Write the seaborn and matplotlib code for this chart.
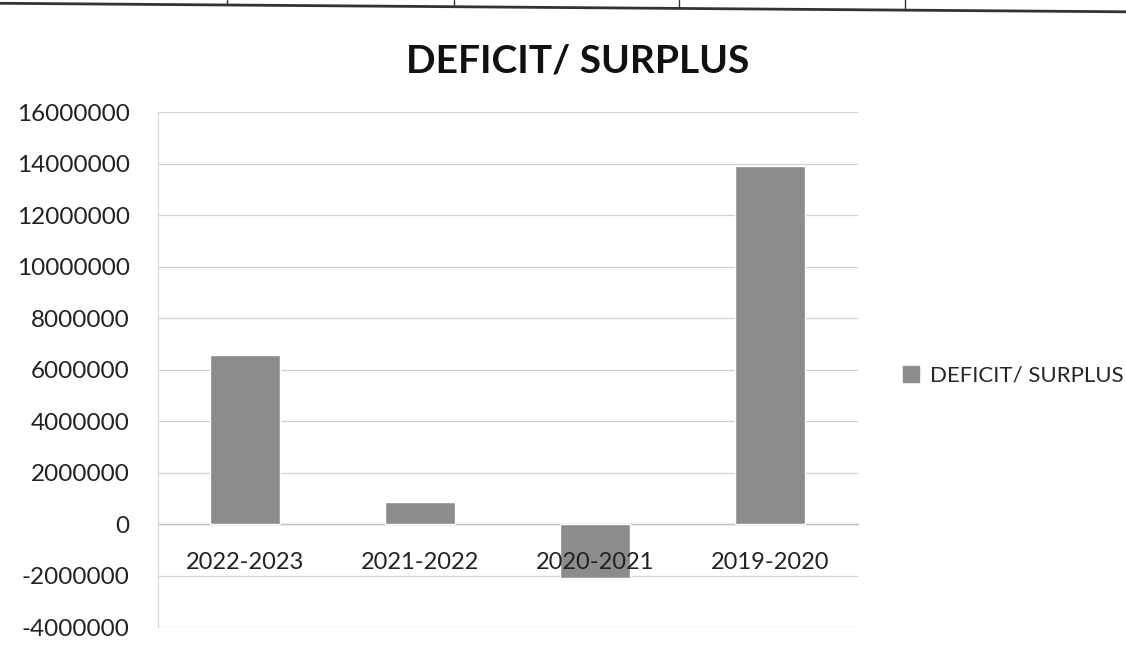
import matplotlib
matplotlib.use("Agg")
import matplotlib.pyplot as plt
from matplotlib.lines import Line2D
from matplotlib.patches import Patch
import seaborn as sns
import pandas as pd
import numpy as np

categories = ["2022-2023", "2021-2022", "2020-2021", "2019-2020"]
values = [6550000, 850000, -2100000, 13900000]
series_name = "DEFICIT/ SURPLUS"
yticks = [-4000000, -2000000, 0, 2000000, 4000000, 6000000, 8000000,
          10000000, 12000000, 14000000, 16000000]

sns.set_theme(style="white")
plt.rcParams["font.family"] = ["Lato", "DejaVu Sans"]

df = pd.DataFrame({"Year": categories, "Value": values})

fig = plt.figure(figsize=(11.26, 6.56), dpi=100)
ax = fig.add_axes([0.140, 0.044, 0.622, 0.785])

bar_color = "#8c8c8c"
sns.barplot(data=df, x="Year", y="Value", color=bar_color, width=0.4,
            saturation=1, ax=ax, order=categories)

ax.set_ylim(-4000000, 16000000)
ax.set_xlim(-0.5, len(categories) - 0.5)
ax.set_yticks(yticks)
ax.set_yticklabels([str(v) for v in yticks], fontsize=17.5, color="#222222")
ax.set_xlabel("")
ax.set_ylabel("")

ax.yaxis.grid(True, color="#d2d2d2", linewidth=0.9)
ax.set_axisbelow(True)
ax.xaxis.set_zorder(5)

for s in ["top", "right"]:
    ax.spines[s].set_visible(False)
ax.spines["left"].set_color("#d8d8d8")
ax.spines["left"].set_linewidth(0.9)
ax.spines["bottom"].set_position(("data", 0))
ax.spines["bottom"].set_color("#bdbdbd")
ax.spines["bottom"].set_linewidth(1.0)
ax.spines["bottom"].set_zorder(0.6)

ax.tick_params(axis="x", which="major", length=0, pad=20, labelsize=17,
               labelcolor="#222222")
ax.set_xticks(np.arange(-0.5, len(categories), 1.0), minor=True)
ax.tick_params(axis="x", which="minor", length=7, color="#bdbdbd", direction="out")
ax.tick_params(axis="y", length=0, pad=20)

fig.text(0.513, 0.907, "DEFICIT/ SURPLUS", ha="center", va="center",
         fontsize=28, fontweight="bold", color="#111111")

handle = Patch(facecolor=bar_color, edgecolor=bar_color)
fig.legend([handle], [series_name], loc="center left",
           bbox_to_anchor=(0.802, 0.427), frameon=False, fontsize=16,
           handlelength=0.7, handleheight=0.7, handletextpad=0.5,
           borderpad=0, borderaxespad=0)

# scanned table border at the top of the page
fig.add_artist(Line2D([0, 1], [0.995, 0.982], color="#333333", linewidth=2.0,
                      transform=fig.transFigure))
for xb in [0.202, 0.403, 0.603, 0.804]:
    yb = 0.995 - 0.013 * xb
    fig.add_artist(Line2D([xb, xb], [yb, 1.0], color="#333333", linewidth=1.0,
                          transform=fig.transFigure))

fig.savefig("out.png", dpi=100, facecolor="white")
